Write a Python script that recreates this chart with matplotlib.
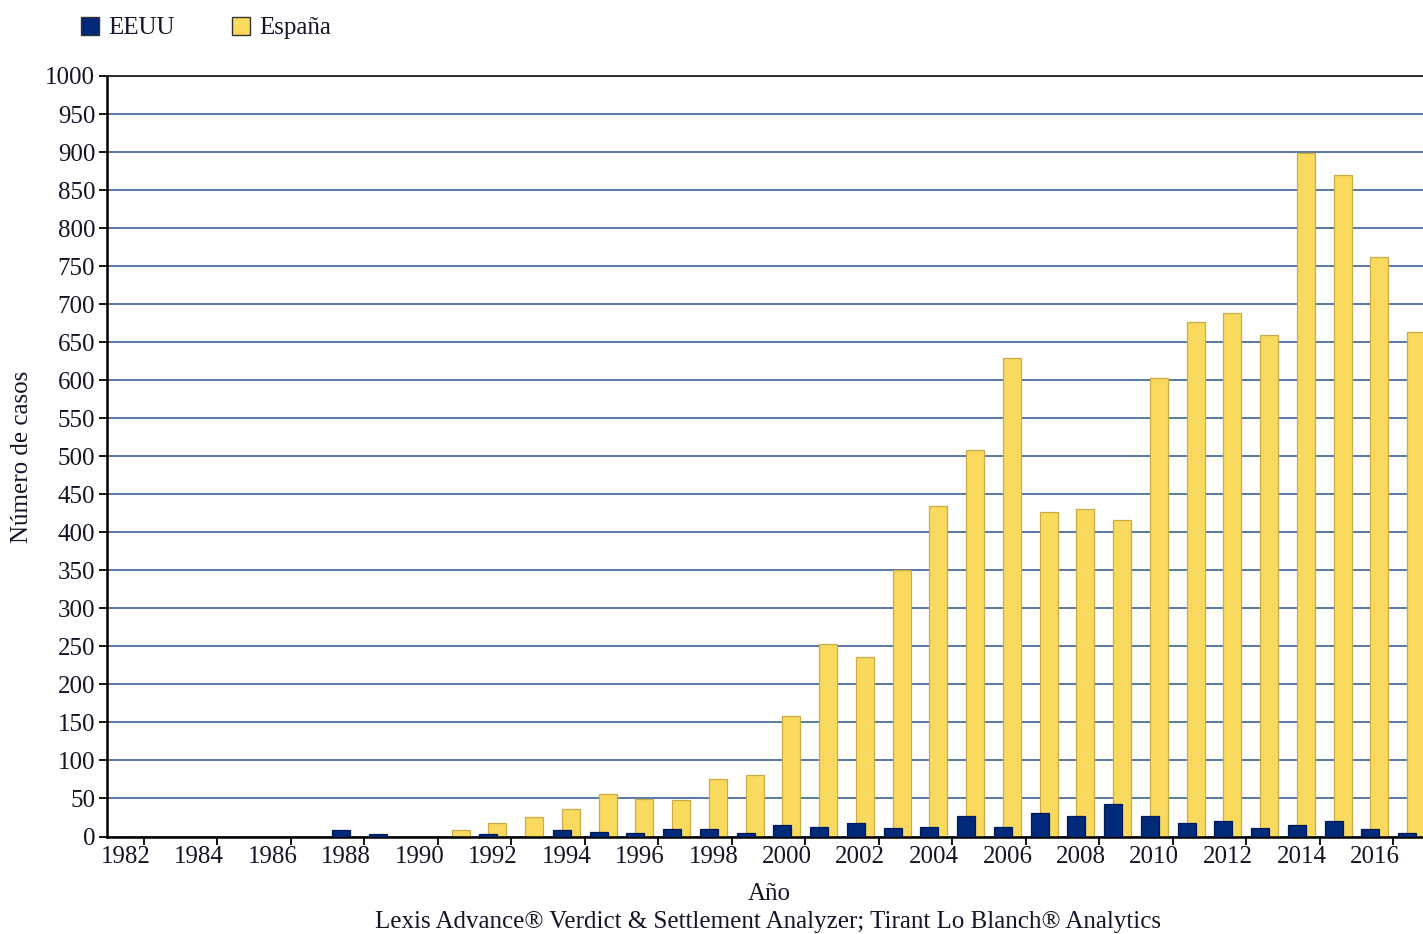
import matplotlib
matplotlib.use("Agg")
import matplotlib.pyplot as plt
import numpy as np
from matplotlib.patches import Patch

# datos
years = list(range(1982, 2018))
eeuu = [0, 0, 0, 0, 0, 0, 8, 3, 0, 0, 3, 0, 8, 6, 4, 10, 10, 4,
        15, 13, 18, 11, 13, 27, 13, 31, 27, 43, 27, 18, 20, 11, 15, 20, 10, 4]
espana = [0, 0, 0, 0, 0, 0, 0, 0, 0, 9, 18, 26, 36, 56, 49, 48, 76, 81,
          159, 253, 236, 351, 434, 508, 629, 427, 430, 416, 603, 677, 689, 659, 899, 870, 762, 663]
y_ticks = list(range(0, 1001, 50))

BLUE = "#00297a"
YELLOW = "#f9da5f"
GRID = "#4a6c9b"
TXT = "#141428"
FS = 18

plt.rcParams['font.family'] = ['Liberation Serif', 'DejaVu Serif']
plt.rcParams['text.color'] = TXT
plt.rcParams['xtick.labelcolor'] = TXT
plt.rcParams['ytick.labelcolor'] = TXT

fig = plt.figure(figsize=(14.23, 9.34), dpi=100)
W, H = 1423, 934
x0, y0, y1 = 107, 836.5, 76
ax = fig.add_axes([x0 / W, 1 - y0 / H, 1 - x0 / W, (y0 - y1) / H])

x = np.arange(len(years))
step = 36.75  # px por categoría
bw = 18 / step
off = 4.5 / step

ax.bar(x + off, espana, width=bw, color=YELLOW, edgecolor="#c9ac45", linewidth=0.9, zorder=2)
ax.bar(x - off, eeuu, width=bw, color=BLUE, edgecolor="#001a55", linewidth=0.9, zorder=3)

ax.set_yticks(y_ticks)
ax.set_yticklabels([str(v) for v in y_ticks])
ax.yaxis.grid(True, color=GRID, linewidth=1.3, zorder=0)
ax.set_axisbelow(True)

# marcas entre categorías, etiquetas en el centro
xmax = (W - x0) / step - 0.5
ax.set_xticks(np.arange(0.5, xmax, 2.0))
ax.set_xticklabels([])
ax.set_xticks(x[::2], minor=True)
ax.set_xticklabels([str(y) for y in years[::2]], minor=True)
ax.tick_params(axis='x', which='major', length=6, width=1.3, direction='out', color='black')
ax.tick_params(axis='x', which='minor', length=0, pad=7, labelsize=FS)
ax.tick_params(axis='y', length=6, width=1.3, direction='out', pad=2.5, labelsize=FS)

ax.set_xlim(-0.5, xmax)
ax.set_ylim(0, 1000)

ax.spines['right'].set_visible(False)
ax.spines['left'].set_linewidth(1.8)
ax.spines['bottom'].set_linewidth(1.8)
ax.spines['top'].set_linewidth(1.3)
ax.spines['top'].set_color('#222222')

fig.text(22 / W, 1 - 457 / H, "Número de casos", rotation=90, ha='center', va='center', fontsize=FS)
fig.text(769 / W, 1 - 894 / H, "Año", ha='center', va='center', fontsize=FS)
fig.text(768 / W, 1 - 922 / H,
         "Lexis Advance® Verdict & Settlement Analyzer; Tirant Lo Blanch® Analytics",
         ha='center', va='center', fontsize=FS)

handles = [Patch(facecolor=BLUE, edgecolor='#333333', label='EEUU'),
           Patch(facecolor=YELLOW, edgecolor='#333333', label='España')]
fig.legend(handles=handles, loc='center left', bbox_to_anchor=(81 / W, 1 - 28 / H), ncol=2,
           frameon=False, fontsize=FS, handlelength=0.72, handleheight=0.72,
           handletextpad=0.36, columnspacing=2.3, borderaxespad=0, borderpad=0)

fig.savefig("out.png", dpi=100)
